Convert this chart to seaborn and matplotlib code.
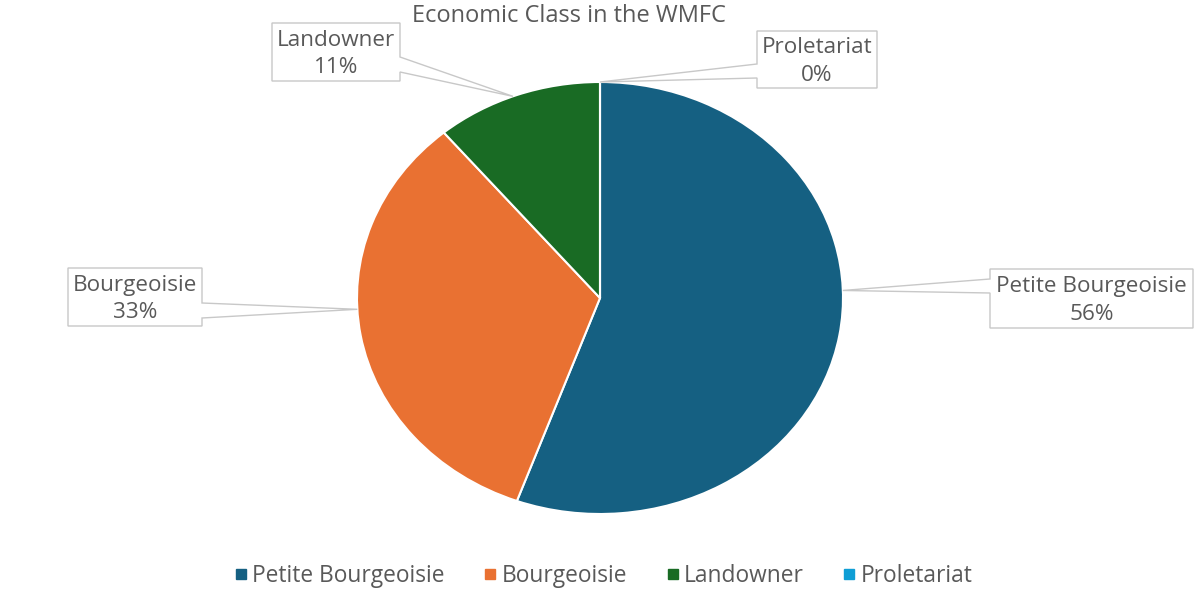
import matplotlib
matplotlib.use("Agg")
import matplotlib.pyplot as plt
from matplotlib.patches import Polygon
from matplotlib.lines import Line2D
import numpy as np
import seaborn as sns

# data
classes = ["Petite Bourgeoisie", "Bourgeoisie", "Landowner", "Proletariat"]
counts = [5, 3, 1, 0]
colors = ["#156082", "#E97132", "#196B24", "#0F9ED5"]
title = "Economic Class in the WMFC"

sns.set_theme(style="white")
plt.rcParams["font.family"] = ["Open Sans", "DejaVu Sans"]
text_color = "#595959"
edge_gray = "#C8C8C8"

W, H = 1200, 600
fig = plt.figure(figsize=(W / 100, H / 100), dpi=100)
ax = fig.add_axes([0, 0, 1, 1])

# pie centre / radii in pixels (the source chart is stretched a bit horizontally)
cx, cy, rx, ry = 600, 298, 243, 216

ax.pie(counts, colors=colors, startangle=90, counterclock=False,
       wedgeprops=dict(edgecolor="white", linewidth=1.5))
ax.set_aspect("auto")
ax.set_xlim(-cx / rx, (W - cx) / rx)
ax.set_ylim(-(H - cy) / ry, cy / ry)
ax.axis("off")


def px(x, y):
    # pixel (from top-left) -> data coords
    return ((x - cx) / rx, (cy - y) / ry)


total = sum(counts)
# callout boxes: (x0, y0, x1, y1), side of leader, leader attach y's, anchor angle on rim
callouts = {
    "Petite Bourgeoisie": ((990, 269, 1193, 328), "left", (279, 293), 2),
    "Bourgeoisie": ((68, 268, 202, 326), "right", (303, 318), 183),
    "Landowner": ((272, 23, 400, 81), "right", (57, 72), 111),
    "Proletariat": ((757, 31, 877, 88), "left", (64, 78), 90),
}

for name, n in zip(classes, counts):
    (x0, y0, x1, y1), side, (a1, a2), ang = callouts[name]
    tx = np.cos(np.radians(ang))
    ty = np.sin(np.radians(ang))
    if side == "left":
        pts = [px(x0, y0), px(x1, y0), px(x1, y1), px(x0, y1),
               px(x0, a2), (tx, ty), px(x0, a1)]
    else:
        pts = [px(x0, y0), px(x1, y0), px(x1, a1), (tx, ty),
               px(x1, a2), px(x1, y1), px(x0, y1)]
    ax.add_patch(Polygon(pts, closed=True, facecolor="white",
                         edgecolor=edge_gray, linewidth=1.0, zorder=5))
    mx, my = px((x0 + x1) / 2, (y0 + y1) / 2 + 2)
    pct = f"{round(100 * n / total)}%"
    ax.text(mx, my, f"{name}\n{pct}", ha="center", va="center",
            fontsize=16.2, color=text_color, linespacing=1.38, zorder=6)

fig.text(569 / W, 1 - 16 / H, title, ha="center", va="center",
         fontsize=17, color=text_color)

handles = [Line2D([], [], marker="s", linestyle="", color=c, markersize=7.5)
           for c in colors]
leg = fig.legend(handles, classes, loc="center", bbox_to_anchor=(601 / W, 1 - 576 / H),
                 ncol=4, frameon=False, fontsize=16.4, handletextpad=0.0,
                 columnspacing=1.5, handlelength=1.0)
for t in leg.get_texts():
    t.set_color(text_color)

fig.savefig("out.png", dpi=100, facecolor="white")
